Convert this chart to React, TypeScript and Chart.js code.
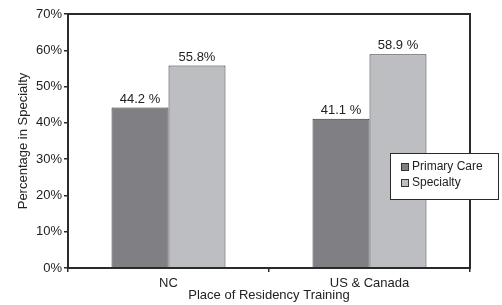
import React, { useEffect, useRef } from 'react';
import { Chart, registerables } from 'chart.js';

Chart.register(...registerables);

const categories = ['NC', 'US & Canada'];
const seriesNames = ['Primary Care', 'Specialty'];
const primaryCare = [44.2, 41.1];
const specialty = [55.8, 58.9];
const primaryLabels = ['44.2 %', '41.1 %'];
const specialtyLabels = ['55.8%', '58.9 %'];
const yMin = 0;
const yMax = 70;
const yStep = 10;

const FONT = '"Liberation Sans", Arial, sans-serif';
const DARK = '#2a2a2a';
const PRIMARY_COLOR = '#808084';
const SPECIALTY_COLOR = '#bdbec1';

const overlayPlugin = {
  id: 'overlay',
  afterDatasetsDraw(chart: any) {
    const { ctx, chartArea } = chart;
    ctx.save();
    // plot frame
    ctx.strokeStyle = DARK;
    ctx.lineWidth = 2;
    ctx.strokeRect(chartArea.left, chartArea.top, chartArea.right - chartArea.left, chartArea.bottom - chartArea.top);
    // value labels
    const labelSets = [primaryLabels, specialtyLabels];
    ctx.fillStyle = '#222';
    ctx.font = '13px ' + FONT;
    ctx.textAlign = 'center';
    ctx.textBaseline = 'alphabetic';
    chart.data.datasets.forEach((_ds: any, di: number) => {
      const meta = chart.getDatasetMeta(di);
      meta.data.forEach((bar: any, i: number) => {
        ctx.fillText(labelSets[di][i], bar.x, bar.y - 5);
      });
    });
    ctx.restore();
  },
  afterDraw(chart: any) {
    const { ctx } = chart;
    ctx.save();
    const bx = 390, by = 153, bw = 109, bh = 47;
    ctx.fillStyle = '#ffffff';
    ctx.fillRect(bx, by, bw, bh);
    ctx.strokeStyle = DARK;
    ctx.lineWidth = 1;
    ctx.strokeRect(bx + 0.5, by + 0.5, bw - 1, bh - 1);
    ctx.font = '12px ' + FONT;
    ctx.textAlign = 'left';
    ctx.textBaseline = 'middle';
    chart.data.datasets.forEach((ds: any, di: number) => {
      const cy = 167 + di * 16;
      ctx.fillStyle = ds.backgroundColor;
      ctx.fillRect(402, cy - 3, 6, 6);
      ctx.strokeStyle = '#333';
      ctx.strokeRect(401.5, cy - 3.5, 7, 7);
      ctx.fillStyle = '#222';
      ctx.fillText(ds.label, 412, cy);
    });
    ctx.restore();
  },
};

export default function App() {
  const ref = useRef<HTMLCanvasElement | null>(null);
  useEffect(() => {
    document.body.style.margin = '0';
    if (!ref.current) return;
    const chart = new Chart(ref.current, {
      type: 'bar',
      data: {
        labels: categories,
        datasets: [
          {
            label: seriesNames[0],
            data: primaryCare,
            backgroundColor: PRIMARY_COLOR,
            borderColor: '#333',
            borderWidth: 1,
            categoryPercentage: 0.567,
            barPercentage: 1,
          },
          {
            label: seriesNames[1],
            data: specialty,
            backgroundColor: SPECIALTY_COLOR,
            borderColor: '#333',
            borderWidth: 1,
            categoryPercentage: 0.567,
            barPercentage: 1,
          },
        ],
      },
      options: {
        responsive: false,
        animation: false,
        layout: { padding: { top: 14, right: 32, left: 0, bottom: 0 } },
        plugins: {
          legend: { display: false },
          tooltip: { enabled: false },
        },
        scales: {
          x: {
            grid: { display: true, drawOnChartArea: false, drawTicks: true, tickLength: 4, color: DARK, lineWidth: 1.5 },
            border: { display: true, color: DARK, width: 2 },
            ticks: { color: '#222', font: { family: FONT, size: 13 }, padding: 4 },
            title: { display: true, text: 'Place of Residency Training', color: '#222', font: { family: FONT, size: 13 }, padding: { top: 0, bottom: 2 } },
            afterFit: (s: any) => { s.height = 37; },
          },
          y: {
            min: yMin,
            max: yMax,
            grid: { display: true, drawOnChartArea: false, drawTicks: true, tickLength: 4, color: DARK, lineWidth: 1.5 },
            border: { display: true, color: DARK, width: 2 },
            ticks: { stepSize: yStep, color: '#222', font: { family: FONT, size: 13 }, padding: 2, callback: (v: any) => v + '%' },
            title: { display: true, text: 'Percentage in Specialty', color: '#222', font: { family: FONT, size: 13 }, padding: { top: 16, bottom: 0 } },
            afterFit: (s: any) => { s.width = 68; },
          },
        },
      },
      plugins: [overlayPlugin],
    });
    return () => chart.destroy();
  }, []);
  return (
    <div style={{ width: 502, height: 305, background: '#fff' }}>
      <canvas ref={ref} width={502} height={305} />
    </div>
  );
}
